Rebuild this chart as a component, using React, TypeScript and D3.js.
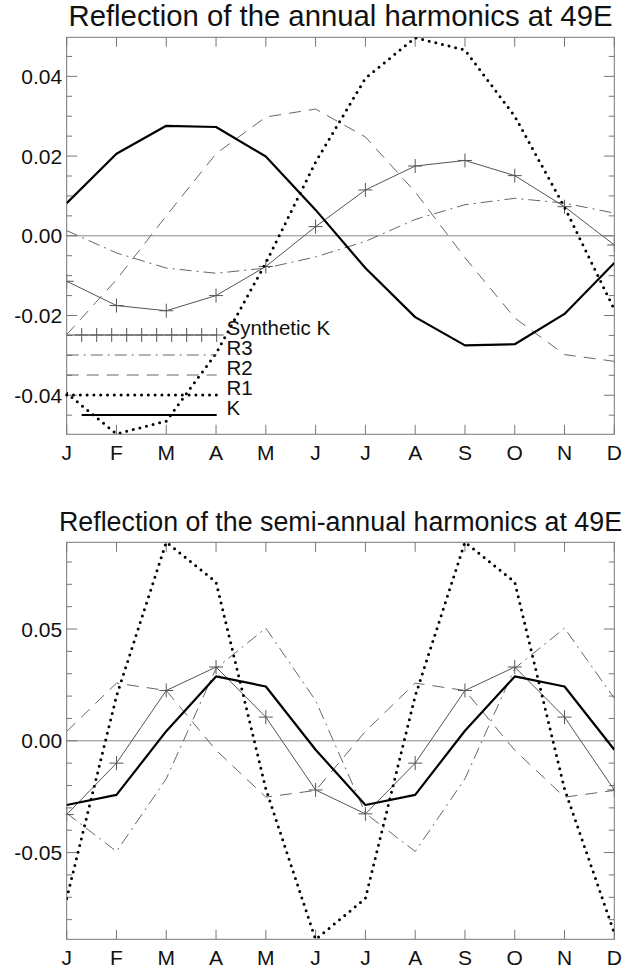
import React from "react";
import * as d3 from "d3";

const months = ["J", "F", "M", "A", "M", "J", "J", "A", "S", "O", "N", "D"];

// Annual harmonics
const annualK = [0.0082, 0.0206, 0.0276, 0.0273, 0.0199, 0.0065, -0.0081, -0.0204, -0.0275, -0.0272, -0.0196, -0.0068];
const annualR1 = [-0.0395, -0.0497, -0.0465, -0.0295, -0.0068, 0.0185, 0.0395, 0.0497, 0.0466, 0.03, 0.0072, -0.0185];
const annualR2 = [-0.0248, -0.011, 0.005, 0.0206, 0.0298, 0.0318, 0.0248, 0.011, -0.0055, -0.0206, -0.0298, -0.0315];
const annualR3 = [0.0013, -0.0043, -0.0081, -0.0094, -0.0081, -0.0053, -0.0014, 0.0041, 0.0078, 0.0094, 0.0082, 0.0057];
const annualSynK = [-0.0114, -0.0175, -0.0188, -0.015, -0.0077, 0.0023, 0.0115, 0.0175, 0.0189, 0.0151, 0.0073, -0.0023];

// Semi-annual harmonics
const semiK = [-0.0287, -0.0242, 0.0043, 0.0288, 0.0243, -0.004, -0.0287, -0.0242, 0.0045, 0.0288, 0.0243, -0.004];
const semiR1 = [-0.0705, 0.02, 0.0889, 0.071, -0.0215, -0.0889, -0.0705, 0.02, 0.0889, 0.071, -0.0215, -0.086];
const semiR2 = [0.0042, 0.0258, 0.0225, -0.0042, -0.0252, -0.0222, 0.0042, 0.0258, 0.0225, -0.0042, -0.0252, -0.0222];
const semiR3 = [-0.0324, -0.0495, -0.017, 0.0324, 0.0504, 0.018, -0.0324, -0.0495, -0.017, 0.0324, 0.0504, 0.019];
const semiSynK = [-0.033, -0.01, 0.0225, 0.033, 0.0106, -0.022, -0.0327, -0.01, 0.0225, 0.033, 0.0106, -0.022];

const annualMajor = [-0.04, -0.02, 0, 0.02, 0.04];
const annualMajorLabels = ["-0.04", "-0.02", "0.00", "0.02", "0.04"];
const semiMajor = [-0.05, 0, 0.05];
const semiMajorLabels = ["-0.05", "0.00", "0.05"];

const legendLabels = ["Synthetic K", "R3", "R2", "R1", "K"];

const FONT = "'Liberation Sans', Arial, Helvetica, sans-serif";
const FRAME = "#777";
const GRAY = "#555";

const X0 = 66.7;
const X1 = 614.3;

type Series = { values: number[]; kind: string };

const styleFor = (kind: string) => {
  switch (kind) {
    case "K":
      return { stroke: "#000", strokeWidth: 2.2, dash: undefined, cap: "butt" };
    case "R1":
      return { stroke: "#000", strokeWidth: 3, dash: "0,6.8", cap: "round" };
    case "R2":
      return { stroke: "#666", strokeWidth: 1, dash: "12,8", cap: "butt" };
    case "R3":
      return { stroke: "#666", strokeWidth: 1, dash: "12,5,2,5", cap: "butt" };
    default:
      return { stroke: GRAY, strokeWidth: 1, dash: undefined, cap: "butt" };
  }
};

function Panel(props: {
  id: string;
  title: string;
  titleSize: number;
  top: number;
  bottom: number;
  domain: [number, number];
  major: number[];
  majorLabels: string[];
  minorStep: number;
  series: Series[];
  legend?: boolean;
}) {
  const { id, title, titleSize, top, bottom, domain, major, majorLabels, minorStep, series, legend } = props;
  const x = d3.scaleLinear().domain([0, 11]).range([X0, X1]);
  const y = d3.scaleLinear().domain(domain).range([bottom, top]);
  const line = d3
    .line<number>()
    .x((_, i) => x(i))
    .y((d) => y(d));

  const minor: number[] = [];
  const nMin = Math.ceil(domain[0] / minorStep - 1e-6);
  const nMax = Math.floor(domain[1] / minorStep + 1e-6);
  for (let k = nMin; k <= nMax; k++) {
    const v = +(k * minorStep).toFixed(6);
    if (!major.some((m) => Math.abs(m - v) < 1e-9)) minor.push(v);
  }

  const legendY = [335, 355, 375, 395, 415];
  const legendKinds = ["SynK", "R3", "R2", "R1", "K"];
  const lx0 = X0;
  const lx1 = 216.7;

  return (
    <g>
      <defs>
        <clipPath id={id}>
          <rect x={X0} y={top} width={X1 - X0} height={bottom - top} />
        </clipPath>
      </defs>
      <text x={(X0 + X1) / 2} y={top - 11} textAnchor="middle" fontFamily={FONT} fontSize={titleSize} fill="#111">
        {title}
      </text>
      {/* zero line */}
      <line x1={X0} x2={X1} y1={y(0)} y2={y(0)} stroke="#888" strokeWidth={1} />
      {/* frame */}
      <rect x={X0} y={top} width={X1 - X0} height={bottom - top} fill="none" stroke={FRAME} strokeWidth={1} />
      {/* x ticks */}
      {months.map((m, i) => (
        <g key={"xt" + i}>
          <line x1={x(i)} x2={x(i)} y1={bottom} y2={bottom - 9.5} stroke={FRAME} />
          <line x1={x(i)} x2={x(i)} y1={top} y2={top + 9.5} stroke={FRAME} />
          <text x={x(i)} y={bottom + 25.5} textAnchor="middle" fontFamily={FONT} fontSize={21} fill="#111">
            {m}
          </text>
        </g>
      ))}
      {/* y ticks */}
      {major.map((v, i) => (
        <g key={"ym" + i}>
          <line x1={X0} x2={X0 + 10.5} y1={y(v)} y2={y(v)} stroke={FRAME} />
          <line x1={X1} x2={X1 - 10.5} y1={y(v)} y2={y(v)} stroke={FRAME} />
          <text x={X0 - 4.5} y={y(v) + 7.5} textAnchor="end" fontFamily={FONT} fontSize={21} fill="#111">
            {majorLabels[i]}
          </text>
        </g>
      ))}
      {minor.map((v, i) => (
        <g key={"yn" + i}>
          <line x1={X0} x2={X0 + 5.5} y1={y(v)} y2={y(v)} stroke={FRAME} />
          <line x1={X1} x2={X1 - 5.5} y1={y(v)} y2={y(v)} stroke={FRAME} />
        </g>
      ))}
      {/* series */}
      <g clipPath={`url(#${id})`}>
        {series.map((s, si) => {
          const st = styleFor(s.kind);
          return (
            <g key={"s" + si}>
              <path
                d={line(s.values) || ""}
                fill="none"
                stroke={st.stroke}
                strokeWidth={st.strokeWidth}
                strokeDasharray={st.dash}
                strokeLinecap={st.cap as any}
                strokeLinejoin="round"
              />
              {s.kind === "SynK" &&
                s.values.map((v, i) => (
                  <path
                    key={"p" + i}
                    d={`M${x(i) - 7},${y(v)}h14M${x(i)},${y(v) - 7}v14`}
                    stroke={GRAY}
                    strokeWidth={1}
                  />
                ))}
            </g>
          );
        })}
      </g>
      {legend &&
        legendKinds.map((k, i) => {
          const st = styleFor(k);
          const ly = legendY[i];
          const start = k === "K" ? lx0 + 15 : lx0;
          return (
            <g key={"lg" + i}>
              <line
                x1={start}
                x2={lx1}
                y1={ly}
                y2={ly}
                stroke={st.stroke}
                strokeWidth={st.strokeWidth}
                strokeDasharray={st.dash}
                strokeLinecap={st.cap as any}
              />
              {k === "SynK" &&
                d3.range(10).map((j) => (
                  <path
                    key={"lp" + j}
                    d={`M${lx0 + 15 + j * 15 - 7},${ly}h14M${lx0 + 15 + j * 15},${ly - 7}v14`}
                    stroke={GRAY}
                    strokeWidth={1}
                  />
                ))}
              <text x={226.5} y={ly} fontFamily={FONT} fontSize={20.5} fill="#111">
                {legendLabels[i]}
              </text>
            </g>
          );
        })}
    </g>
  );
}

export default function App() {
  const annualSeries: Series[] = [
    { values: annualR2, kind: "R2" },
    { values: annualR3, kind: "R3" },
    { values: annualSynK, kind: "SynK" },
    { values: annualR1, kind: "R1" },
    { values: annualK, kind: "K" },
  ];
  const semiSeries: Series[] = [
    { values: semiR2, kind: "R2" },
    { values: semiR3, kind: "R3" },
    { values: semiSynK, kind: "SynK" },
    { values: semiR1, kind: "R1" },
    { values: semiK, kind: "K" },
  ];
  return (
    <svg
      width={628}
      height={968}
      style={{ position: "absolute", left: 0, top: 0, background: "#fff" }}
    >
      <rect width={628} height={968} fill="#fff" />
      <Panel
        id="clipA"
        title="Reflection of the annual harmonics at 49E"
        titleSize={29.3}
        top={37.3}
        bottom={434.3}
        domain={[-0.0498, 0.0498]}
        major={annualMajor}
        majorLabels={annualMajorLabels}
        minorStep={0.005}
        series={annualSeries}
        legend
      />
      <Panel
        id="clipB"
        title="Reflection of the semi-annual harmonics at 49E"
        titleSize={26.8}
        top={542.3}
        bottom={939.3}
        domain={[-0.0888, 0.0888]}
        major={semiMajor}
        majorLabels={semiMajorLabels}
        minorStep={0.01}
        series={semiSeries}
      />
    </svg>
  );
}
